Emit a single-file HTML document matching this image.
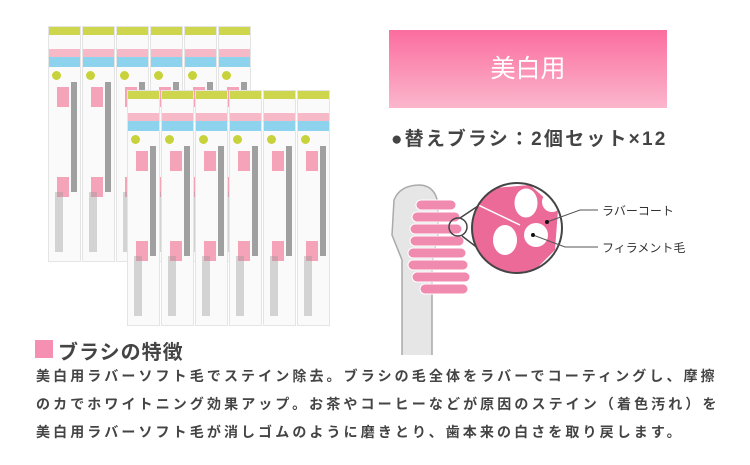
<!DOCTYPE html><html><head><meta charset="utf-8"><style>
body{margin:0;width:750px;height:465px;background:#fff;position:relative;overflow:hidden;font-family:"Liberation Sans","Noto Sans CJK JP",sans-serif;color:#333}
.a{position:absolute}
.pk{position:absolute;width:33px;height:236px;background:#fafafa;border:1px solid #e4e4e4;box-sizing:border-box}
.pk .h{height:8px;background:#cdd64c}
.pk .p{position:absolute;top:22px;left:0;right:0;height:8px;background:#f6b9c8}
.pk .b{position:absolute;top:30px;left:0;right:0;height:10px;background:#8dd3ee}
.pk .y{position:absolute;top:44px;left:3px;width:9px;height:9px;border-radius:50%;background:#c8d23a}
.pk .r1,.pk .r2{position:absolute;left:8px;width:12px;height:20px;background:#f5a3b8}
.pk .r1{top:60px}.pk .r2{top:150px}
.pk .t{position:absolute;left:22px;top:55px;width:6px;height:110px;background:#555;opacity:.55}
.pk .i{position:absolute;left:6px;top:165px;width:8px;height:60px;background:#999;opacity:.4}
</style></head><body>
<div class="a" style="left:389px;top:30px;width:278px;height:78px;background:linear-gradient(#fb6d9f,#fbb6cc);color:#fff;font-size:25px;text-align:center;line-height:78px">美白用</div>
<div class="a" style="left:391px;top:124px;font-size:19px;font-weight:bold;color:#444;letter-spacing:2.2px">●替えブラシ：2個セット×12</div>
<svg class="a" style="left:380px;top:150px" width="340" height="210">
<path d="M22 205 L22 110 L12 85 L14 50 Q20 35 40 35 Q56 36 58 55 L58 85 L52 112 L52 205" fill="#e6e6e6" stroke="#aaa" stroke-width="1.5"/>
<g fill="#f08aae" stroke="#fff" stroke-width="1">
<rect x="36" y="50" width="40" height="10" rx="5"/><rect x="32" y="62" width="48" height="10" rx="5"/><rect x="30" y="74" width="52" height="10" rx="5"/><rect x="30" y="86" width="54" height="10" rx="5"/><rect x="28" y="98" width="58" height="10" rx="5"/><rect x="28" y="110" width="60" height="10" rx="5"/><rect x="32" y="122" width="58" height="10" rx="5"/><rect x="40" y="134" width="48" height="10" rx="5"/></g>
<line x1="80" y1="68" x2="125" y2="38" stroke="#444" stroke-width="1.5"/><line x1="82" y1="86" x2="120" y2="115" stroke="#444" stroke-width="1.5"/>
<circle cx="78" cy="77" r="9" fill="none" stroke="#444" stroke-width="1.5"/>
<clipPath id="c"><circle cx="137" cy="78" r="45"/></clipPath>
<g clip-path="url(#c)"><rect x="90" y="30" width="100" height="100" fill="#fff"/><path d="M92 40 L150 35 L178 60 L175 100 L150 125 L92 125 Z" fill="#ec6a98"/>
<line x1="92" y1="52" x2="140" y2="75" stroke="#fff" stroke-width="1.5"/>
<ellipse cx="146" cy="53" rx="11" ry="14" fill="#fff" stroke="#fff"/><ellipse cx="125" cy="90" rx="12" ry="15" fill="#fff"/><ellipse cx="156" cy="85" rx="12" ry="12" fill="#fff"/><ellipse cx="172" cy="52" rx="10" ry="10" fill="#fff"/></g>
<circle cx="137" cy="78" r="45" fill="none" stroke="#444" stroke-width="2"/>
<polyline points="167,72 200,60 218,60" fill="none" stroke="#555"/><circle cx="167" cy="72" r="2" fill="#111"/>
<polyline points="153,85 185,97 218,97" fill="none" stroke="#555"/><circle cx="153" cy="85" r="2" fill="#111"/>
<text x="222" y="65" font-size="12" fill="#333">ラバーコート</text>
<text x="222" y="102" font-size="12" fill="#333">フィラメント毛</text>
</svg>
<div class="a" style="left:35px;top:340px;width:18px;height:18px;background:#f590b2"></div>
<div class="a" style="left:58px;top:336px;font-size:20px;font-weight:bold;color:#444;letter-spacing:1px">ブラシの特徴</div>
<div class="a" style="left:36px;top:362px;width:720px;font-size:14px;line-height:28px;font-weight:bold;color:#444;letter-spacing:3.1px;white-space:nowrap">美白用ラバーソフト毛でステイン除去。ブラシの毛全体をラバーでコーティングし、摩擦<br>のカでホワイトニング効果アップ。お茶やコーヒーなどが原因のステイン（着色汚れ）を<br>美白用ラバーソフト毛が消しゴムのように磨きとり、歯本来の白さを取り戻します。</div>
<script>
function row(x,y){for(let i=0;i<6;i++){const d=document.createElement('div');d.className='pk';d.style.left=(x+i*34)+'px';d.style.top=y+'px';d.innerHTML='<div class="h"></div><div class="p"></div><div class="b"></div><div class="y"></div><div class="r1"></div><div class="r2"></div><div class="t"></div><div class="i"></div>';document.body.appendChild(d);}}
row(48,26);row(127,90);
</script>
</body></html>
